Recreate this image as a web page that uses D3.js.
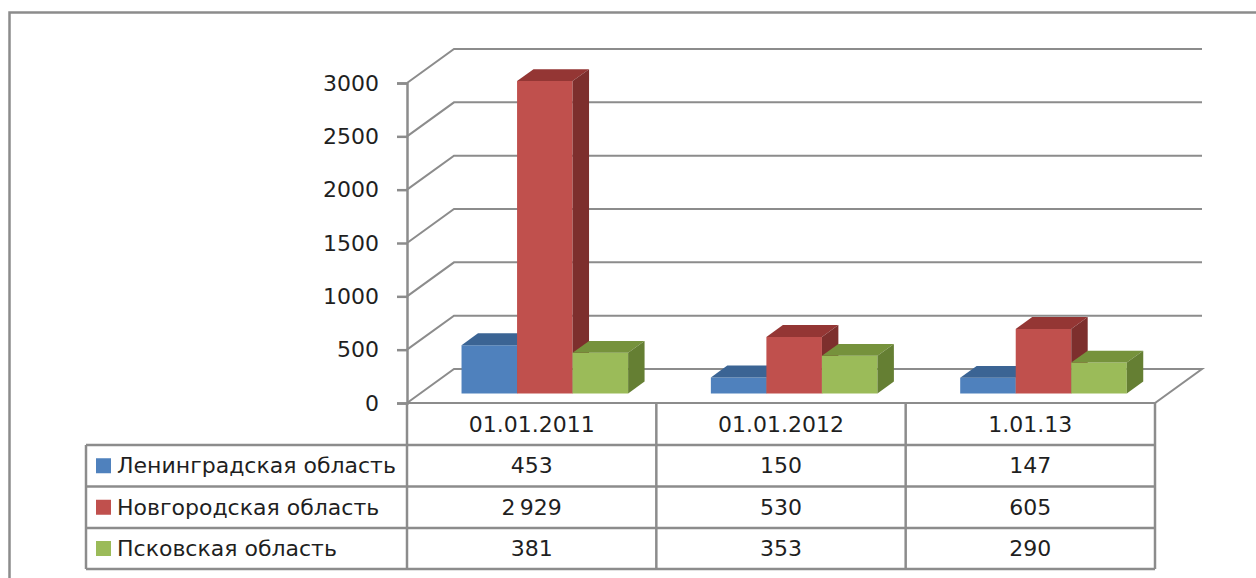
<!DOCTYPE html>
<html>
<head>
<meta charset="utf-8">
<script src="https://cdn.jsdelivr.net/npm/d3@7"></script>
<style>
  html, body { margin: 0; padding: 0; background: #fff; }
  svg { display: block; }
  text { font-family: "DejaVu Sans", sans-serif; fill: #1f1f1f; }
</style>
</head>
<body>
<svg id="chart" width="1256" height="578"></svg>
<script>
// Data
const categories = ["01.01.2011", "01.01.2012", "1.01.13"];
const seriesNames = ["Ленинградская область", "Новгородская область", "Псковская область"];
const leningrad = [453, 150, 147];
const novgorod = [2929, 530, 605];
const pskov = [381, 353, 290];
const yTicks = [0, 500, 1000, 1500, 2000, 2500, 3000];

const seriesValues = [leningrad, novgorod, pskov];
const fills = [
  { front: "#4f81bd", top: "#3b6494", side: "#385d8a" },
  { front: "#c0504d", top: "#943634", side: "#7d2f2d" },
  { front: "#9bbb59", top: "#76923c", side: "#657f33" }
];

const svg = d3.select("#chart");
const gridColor = "#8c8c8c";

// Plot geometry (front plane) and depth offset of the back wall
const x0 = 407, x1 = 1155;
const depthDx = 47, depthDy = -34;
const y = d3.scaleLinear().domain([0, 3000]).range([403, 83]);
const x = d3.scaleBand().domain(categories).range([x0, x1]).padding(0);
const inner = d3.scaleBand().domain(d3.range(3)).range([0, x.bandwidth()])
  .paddingInner(0).paddingOuter(0.745);

// bars sit a bit behind the front plane
const barT1 = 0.28, barT2 = 0.63;

// Outer frame
svg.append("path")
  .attr("d", "M9.5,578 L9.5,12.5 L1256,12.5")
  .attr("fill", "none").attr("stroke", gridColor).attr("stroke-width", 2.5);

// Gridlines: side wall diagonal + back wall horizontal; the floor is closed
const grid = svg.append("g").attr("stroke", gridColor).attr("stroke-width", 2).attr("fill", "none");
yTicks.forEach(t => {
  const yf = y(t);
  if (t === 0) {
    grid.append("path").attr("d",
      `M${x0},${yf} L${x0 + depthDx},${yf + depthDy} L${x1 + depthDx},${yf + depthDy} L${x1},${yf} Z`);
  } else {
    grid.append("path").attr("d",
      `M${x0},${yf} L${x0 + depthDx},${yf + depthDy} L${x1 + depthDx},${yf + depthDy}`);
  }
});

// Value axis with ticks
const axis = svg.append("g").attr("transform", `translate(${x0},0)`)
  .call(d3.axisLeft(y).tickValues(yTicks).tickSize(10).tickPadding(18).tickFormat(d3.format("d")));
axis.select(".domain").attr("stroke", gridColor).attr("stroke-width", 2.5);
axis.selectAll(".tick line").attr("stroke", gridColor).attr("stroke-width", 2.5);
axis.selectAll(".tick text").style("font-size", "22px")
  .style("font-family", "'DejaVu Sans', sans-serif").attr("fill", "#1f1f1f");

// 3D bars
const bx = barT1 * depthDx, by = barT1 * depthDy;
const ddx = (barT2 - barT1) * depthDx, ddy = (barT2 - barT1) * depthDy;
const bars = svg.append("g");
categories.forEach((c, ci) => {
  seriesValues.forEach((vals, si) => {
    const v = vals[ci];
    const left = x(c) + inner(si) + bx;
    const right = left + inner.bandwidth();
    const base = y(0) + by;
    const top = y(v) + by;
    const g = bars.append("g");
    g.append("path").attr("fill", fills[si].front)
      .attr("d", `M${left},${base} L${left},${top} L${right},${top} L${right},${base} Z`);
    g.append("path").attr("fill", fills[si].top)
      .attr("d", `M${left},${top} L${left + ddx},${top + ddy} L${right + ddx},${top + ddy} L${right},${top} Z`);
    g.append("path").attr("fill", fills[si].side)
      .attr("d", `M${right},${top} L${right + ddx},${top + ddy} L${right + ddx},${base + ddy} L${right},${base} Z`);
  });
});

// Data table under the plot
const rowEdges = [403, 445, 486.5, 528, 569];
const legendLeft = 86;
const table = svg.append("g").attr("stroke", gridColor).attr("stroke-width", 2.5).attr("fill", "none");
rowEdges.slice(1).forEach(ry => {
  table.append("line").attr("x1", legendLeft).attr("x2", x1).attr("y1", ry).attr("y2", ry);
});
[x0, ...categories.map(c => x(c) + x.bandwidth())].forEach(vx => {
  table.append("line").attr("x1", vx).attr("x2", vx).attr("y1", rowEdges[0]).attr("y2", rowEdges[4]);
});
table.append("line").attr("x1", legendLeft).attr("x2", legendLeft).attr("y1", rowEdges[1]).attr("y2", rowEdges[4]);

const fmt = d3.formatLocale({ decimal: ",", thousands: "\u2009", grouping: [3], currency: ["", ""] }).format(",d");

const cells = svg.append("g").style("font-size", "22px");
categories.forEach((c, ci) => {
  cells.append("text")
    .attr("x", x(c) + x.bandwidth() / 2).attr("y", (rowEdges[0] + rowEdges[1]) / 2)
    .attr("text-anchor", "middle").attr("dominant-baseline", "central").text(c);
  seriesValues.forEach((vals, si) => {
    cells.append("text")
      .attr("x", x(c) + x.bandwidth() / 2).attr("y", (rowEdges[si + 1] + rowEdges[si + 2]) / 2)
      .attr("text-anchor", "middle").attr("dominant-baseline", "central").text(fmt(vals[ci]));
  });
});

seriesNames.forEach((name, si) => {
  const cy = (rowEdges[si + 1] + rowEdges[si + 2]) / 2;
  cells.append("rect").attr("x", 96).attr("y", cy - 7.5).attr("width", 15).attr("height", 15)
    .attr("fill", fills[si].front);
  cells.append("text").attr("x", 117).attr("y", cy)
    .attr("dominant-baseline", "central").text(name);
});
</script>
</body>
</html>
